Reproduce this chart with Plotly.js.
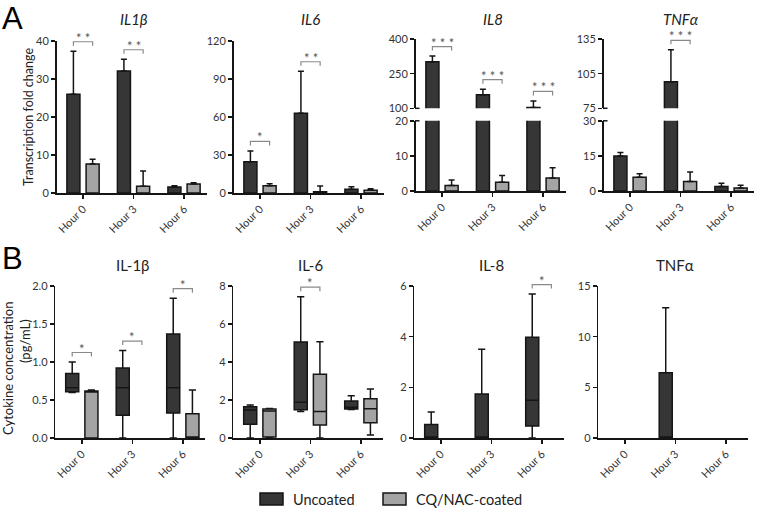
<!DOCTYPE html>
<html><head><meta charset="utf-8">
<script src="https://cdn.plot.ly/plotly-3.0.1.min.js"></script>
<style>html,body{margin:0;padding:0;background:#fff}#chart{width:760px;height:509px}</style>
</head><body><div id="chart"></div>
<script>
// ---------- DATA ----------
const hours = ['Hour 0', 'Hour 3', 'Hour 6'];
const groupNames = ['Uncoated', 'CQ/NAC-coated'];

// Panel A: transcription fold change, mean and upper error
const il1b_unc = [26.0, 32.1, 1.6];
const il1b_unc_err = [11.3, 3.1, 0.3];
const il1b_coat = [7.6, 1.8, 2.4];
const il1b_coat_err = [1.3, 4.0, 0.3];
const il6_unc = [24.7, 62.9, 2.9];
const il6_unc_err = [8.5, 33.2, 2.1];
const il6_coat = [5.8, 1.0, 2.1];
const il6_coat_err = [1.5, 4.5, 1.3];
const il8_unc = [302, 159, 103];
const il8_unc_err = [24, 24, 29];
const il8_coat = [1.6, 2.5, 3.7];
const il8_coat_err = [1.5, 1.9, 2.9];
const tnf_unc = [15.0, 97.9, 1.9];
const tnf_unc_err = [1.5, 27.7, 1.4];
const tnf_coat = [5.9, 4.1, 1.3];
const tnf_coat_err = [1.5, 4.0, 1.2];
const sigA_il1b = ['**', '**', ''];
const sigA_il6 = ['*', '**', ''];
const sigA_il8 = ['***', '***', '***'];
const sigA_tnf = ['', '***', ''];

// Panel B: cytokine concentration (pg/mL), box statistics per hour
// (null = nothing above zero / not drawn)
const bil1b_unc_q1 = [0.61, 0.30, 0.33];
const bil1b_unc_med = [0.66, 0.66, 0.66];
const bil1b_unc_q3 = [0.85, 0.92, 1.37];
const bil1b_unc_lo = [0.60, 0, 0];
const bil1b_unc_hi = [1.00, 1.15, 1.84];
const bil1b_coat_q1 = [0, null, 0];
const bil1b_coat_med = [0.61, null, 0];
const bil1b_coat_q3 = [0.62, null, 0.32];
const bil1b_coat_lo = [0, null, 0];
const bil1b_coat_hi = [0.63, null, 0.63];

const bil6_unc_q1 = [0.72, 1.49, 1.52];
const bil6_unc_med = [1.47, 1.88, 1.62];
const bil6_unc_q3 = [1.65, 5.05, 1.95];
const bil6_unc_lo = [0, 1.40, 1.50];
const bil6_unc_hi = [1.74, 7.44, 2.22];
const bil6_coat_q1 = [0.05, 0.68, 0.80];
const bil6_coat_med = [1.42, 1.40, 1.54];
const bil6_coat_q3 = [1.53, 3.35, 2.07];
const bil6_coat_lo = [0, 0, 0.16];
const bil6_coat_hi = [1.55, 5.07, 2.58];

const bil8_unc_q1 = [0, 0, 0.47];
const bil8_unc_med = [0, 0, 1.49];
const bil8_unc_q3 = [0.53, 1.74, 3.98];
const bil8_unc_lo = [0, 0, 0];
const bil8_unc_hi = [1.03, 3.50, 5.68];
const bil8_coat_q1 = [null, null, null];
const bil8_coat_med = [null, null, null];
const bil8_coat_q3 = [null, null, null];
const bil8_coat_lo = [null, null, null];
const bil8_coat_hi = [null, null, null];

const btnf_unc_q1 = [null, 0, null];
const btnf_unc_med = [null, 0, null];
const btnf_unc_q3 = [null, 6.45, null];
const btnf_unc_lo = [null, 0, null];
const btnf_unc_hi = [null, 12.85, null];
const btnf_coat_q1 = [null, null, null];
const btnf_coat_med = [null, null, null];
const btnf_coat_q3 = [null, null, null];
const btnf_coat_lo = [null, null, null];
const btnf_coat_hi = [null, null, null];

const sigB_il1b = ['*', '*', '*'];
const sigB_il6 = ['', '*', ''];
const sigB_il8 = ['', '', '*'];
const sigB_tnf = ['', '', ''];

// ---------- STYLE / LAYOUT ----------
const W = 760, H = 509, AXW = 150, XR = [-0.525, 2.445];
const FONT = 'Lato, "Open Sans", sans-serif';
const DARK = '#363636', LIGHT = '#a4a4a4', LINE = '#151515';
const BARGAP = 0.24, BARGROUPGAP = 0.32;
const SLOT = (1 - BARGAP) / 2;

const panelsA = [
  {title: 'IL1β', x0: 56.5, panes: [{top: 41, bot: 193, range: [0, 40], dtick: 10}],
   unc: il1b_unc, uncErr: il1b_unc_err, coat: il1b_coat, coatErr: il1b_coat_err, sig: sigA_il1b},
  {title: 'IL6', x0: 233.5, panes: [{top: 41, bot: 193, range: [0, 120], dtick: 30}],
   unc: il6_unc, uncErr: il6_unc_err, coat: il6_coat, coatErr: il6_coat_err, sig: sigA_il6},
  {title: 'IL8', x0: 415.5, panes: [{top: 120.8, bot: 191, range: [0, 20], dtick: 10},
                                   {top: 39, bot: 108.3, range: [100, 400], dtick: 150}],
   unc: il8_unc, uncErr: il8_unc_err, coat: il8_coat, coatErr: il8_coat_err, sig: sigA_il8},
  {title: 'TNFα', x0: 603.5, panes: [{top: 120.8, bot: 191, range: [0, 30], dtick: 15},
                                    {top: 39, bot: 108.3, range: [75, 135], dtick: 30}],
   unc: tnf_unc, uncErr: tnf_unc_err, coat: tnf_coat, coatErr: tnf_coat_err, sig: sigA_tnf}
];

const panelsB = [
  {title: 'IL-1β', x0: 55.3, panes: [{top: 286, bot: 438, range: [0, 2], dtick: 0.5, fmt: '.1f'}],
   unc: [bil1b_unc_q1, bil1b_unc_med, bil1b_unc_q3, bil1b_unc_lo, bil1b_unc_hi],
   coat: [bil1b_coat_q1, bil1b_coat_med, bil1b_coat_q3, bil1b_coat_lo, bil1b_coat_hi], sig: sigB_il1b},
  {title: 'IL-6', x0: 233.3, panes: [{top: 286, bot: 438, range: [0, 8], dtick: 2}],
   unc: [bil6_unc_q1, bil6_unc_med, bil6_unc_q3, bil6_unc_lo, bil6_unc_hi],
   coat: [bil6_coat_q1, bil6_coat_med, bil6_coat_q3, bil6_coat_lo, bil6_coat_hi], sig: sigB_il6},
  {title: 'IL-8', x0: 414.3, panes: [{top: 286, bot: 438, range: [0, 6], dtick: 2}],
   unc: [bil8_unc_q1, bil8_unc_med, bil8_unc_q3, bil8_unc_lo, bil8_unc_hi],
   coat: [bil8_coat_q1, bil8_coat_med, bil8_coat_q3, bil8_coat_lo, bil8_coat_hi], sig: sigB_il8},
  {title: 'TNFα', x0: 598.3, panes: [{top: 286, bot: 438, range: [0, 15], dtick: 5}],
   unc: [btnf_unc_q1, btnf_unc_med, btnf_unc_q3, btnf_unc_lo, btnf_unc_hi],
   coat: [btnf_coat_q1, btnf_coat_med, btnf_coat_q3, btnf_coat_lo, btnf_coat_hi], sig: sigB_tnf}
];

const layout = {
  width: W, height: H, margin: {l: 0, r: 0, t: 0, b: 0},
  paper_bgcolor: '#fff', plot_bgcolor: 'rgba(0,0,0,0)',
  showlegend: false, hovermode: false,
  barmode: 'group', bargap: BARGAP, bargroupgap: BARGROUPGAP,
  boxmode: 'group', boxgap: BARGAP, boxgroupgap: BARGROUPGAP,
  font: {family: FONT, color: '#333'},
  shapes: [], annotations: []
};
const traces = [];
let nx = 0, ny = 0;
const id = n => (n === 1 ? '' : String(n));

function axisBase() {
  return {showline: true, linecolor: LINE, linewidth: 1.5, ticks: 'outside', ticklen: 4,
          tickwidth: 1.5, tickcolor: LINE, showgrid: false, zeroline: false, fixedrange: true,
          tickfont: {family: FONT, size: 11, color: '#333'}};
}
function pxX(p, v) { return p.x0 + (v - XR[0]) / (XR[1] - XR[0]) * AXW; }
function pxY(p, v) {
  let pane = p.panes[0];
  for (const pn of p.panes) { if (v >= pn.range[0]) pane = pn; }
  return pane.bot - (v - pane.range[0]) / (pane.range[1] - pane.range[0]) * (pane.bot - pane.top);
}
function addBracket(p, i, topVal, text) {
  const ly = pxY(p, topVal) - 9.5;
  const xl = pxX(p, i - SLOT / 2), xr = pxX(p, i + SLOT / 2);
  const f = (x, y) => (x / W).toFixed(5) + ',' + (1 - y / H).toFixed(5);
  layout.shapes.push({type: 'path', xref: 'paper', yref: 'paper',
    path: 'M' + f(xl, ly + 4) + 'L' + f(xl, ly) + 'L' + f(xr, ly) + 'L' + f(xr, ly + 4),
    line: {color: '#8a8a8a', width: 1.2}});
  layout.annotations.push({xref: 'paper', yref: 'paper', x: (xl + xr) / 2 / W, y: 1 - (ly - 4) / H,
    xanchor: 'center', yanchor: 'middle', showarrow: false, borderpad: 0,
    text: text.split('').join(' '),
    font: {family: FONT, size: 13, color: '#555'}});
}
function buildPanel(p, kind, tag) {
  nx++;
  const xk = nx;
  const yks = [];
  p.panes.forEach((pn) => {
    ny++;
    yks.push(ny);
    layout['yaxis' + id(ny)] = Object.assign(axisBase(), {
      domain: [1 - pn.bot / H, 1 - pn.top / H], range: pn.range, dtick: pn.dtick, tick0: pn.range[0],
      anchor: 'x' + id(xk), tickformat: pn.fmt || ''
    });
  });
  layout['xaxis' + id(xk)] = Object.assign(axisBase(), {
    domain: [p.x0 / W, (p.x0 + AXW) / W], range: XR, type: 'category', categoryarray: hours,
    categoryorder: 'array', anchor: 'y' + id(yks[0]), tickangle: -45
  });
  // break caps for broken axes
  if (p.panes.length > 1) {
    const capY = [p.panes[1].bot, p.panes[0].top];
    capY.forEach(cy => layout.shapes.push({type: 'line', xref: 'paper', yref: 'paper',
      x0: (p.x0 - 0.5) / W, x1: (p.x0 + 4) / W, y0: 1 - cy / H, y1: 1 - cy / H,
      line: {color: LINE, width: 1.5}}));
  }
  yks.forEach((yk, j) => {
    const ag = tag + '_' + j;
    if (kind === 'bar') {
      [[p.unc, p.uncErr, DARK, 0], [p.coat, p.coatErr, LIGHT, 1]].forEach(([v, e, c, g]) => {
        traces.push({type: 'bar', x: hours, y: v, name: groupNames[g], xaxis: 'x' + id(xk), yaxis: 'y' + id(yk),
          alignmentgroup: ag, offsetgroup: 'g' + g,
          marker: {color: c, line: {color: LINE, width: 1.5}},
          error_y: {type: 'data', symmetric: false, array: e, arrayminus: v.map(() => 0),
                    color: LINE, thickness: 1.5, width: 3}});
      });
    } else {
      [[p.unc, DARK, 0], [p.coat, LIGHT, 1]].forEach(([s, c, g]) => {
        let idx = hours.map((h, i) => i).filter(i => s[2][i] !== null);
        const empty = idx.length === 0;
        if (empty) idx = hours.map((h, i) => i);   // keeps this group's slot, drawn invisibly
        const pick = arr => idx.map(i => (arr[i] === null ? 0 : arr[i]));
        traces.push({type: 'box', x: idx.map(i => hours[i]), q1: pick(s[0]), median: pick(s[1]), q3: pick(s[2]),
          lowerfence: pick(s[3]), upperfence: pick(s[4]),
          name: groupNames[g], xaxis: 'x' + id(xk), yaxis: 'y' + id(yk), boxpoints: false,
          alignmentgroup: ag, offsetgroup: 'g' + g,
          fillcolor: empty ? 'rgba(0,0,0,0)' : c,
          line: {color: empty ? 'rgba(0,0,0,0)' : LINE, width: empty ? 0 : 1.5}, whiskerwidth: 0.55});
      });
    }
  });
  // title
  const tTop = kind === 'bar' ? 19 : 265;
  layout.annotations.push({xref: 'paper', yref: 'paper', x: (p.x0 + AXW / 2 + 2) / W, y: 1 - tTop / H,
    xanchor: 'center', yanchor: 'middle', showarrow: false, borderpad: 0,
    text: kind === 'bar' ? '<i>' + p.title + '</i>' : p.title,
    font: {family: FONT, size: 15, color: '#222'}});
  // significance
  p.sig.forEach((s, i) => {
    if (!s) return;
    let top;
    if (kind === 'bar') top = Math.max(p.unc[i] + p.uncErr[i], p.coat[i] + p.coatErr[i]);
    else top = Math.max(p.unc[4][i] || 0, p.coat[4][i] || 0);
    addBracket(p, i, top, s);
  });
}
panelsA.forEach((p, k) => buildPanel(p, 'bar', 'A' + k));
panelsB.forEach((p, k) => buildPanel(p, 'box', 'B' + k));

// panel letters and axis titles
layout.annotations.push(
  {xref: 'paper', yref: 'paper', x: 1 / W, y: 1, xanchor: 'left', yanchor: 'top', showarrow: false, borderpad: 0,
   text: 'A', font: {family: 'Liberation Sans, Arial, sans-serif', size: 31, color: '#000'}},
  {xref: 'paper', yref: 'paper', x: 1 / W, y: 1 - 240 / H, xanchor: 'left', yanchor: 'top', showarrow: false, borderpad: 0,
   text: 'B', font: {family: 'Liberation Sans, Arial, sans-serif', size: 31, color: '#000'}},
  {xref: 'paper', yref: 'paper', x: 29 / W, y: 1 - 117 / H, xanchor: 'center', yanchor: 'middle', showarrow: false,
   textangle: -90, text: 'Transcription fold change', font: {family: FONT, size: 12.5, color: '#222'}},
  {xref: 'paper', yref: 'paper', x: 8 / W, y: 1 - 369 / H, xanchor: 'center', yanchor: 'middle', showarrow: false,
   textangle: -90, text: 'Cytokine concentration', font: {family: FONT, size: 13, color: '#222'}},
  {xref: 'paper', yref: 'paper', x: 25 / W, y: 1 - 341 / H, xanchor: 'center', yanchor: 'middle', showarrow: false,
   textangle: -90, text: '(pg/mL)', font: {family: FONT, size: 13, color: '#222'}}
);

// legend
[[260, DARK, 0], [383, LIGHT, 1]].forEach(([lx, c, g]) => {
  layout.shapes.push({type: 'rect', xref: 'paper', yref: 'paper', x0: lx / W, x1: (lx + 23) / W,
    y0: 1 - 505 / H, y1: 1 - 493 / H, fillcolor: c, line: {color: LINE, width: 1.5}});
  layout.annotations.push({xref: 'paper', yref: 'paper', x: (lx + 31) / W, y: 1 - 499 / H,
    xanchor: 'left', yanchor: 'middle', showarrow: false, text: groupNames[g],
    font: {family: FONT, size: 14.5, color: '#222'}});
});

Plotly.newPlot('chart', traces, layout, {staticPlot: true, displayModeBar: false});
</script>
</body></html>
